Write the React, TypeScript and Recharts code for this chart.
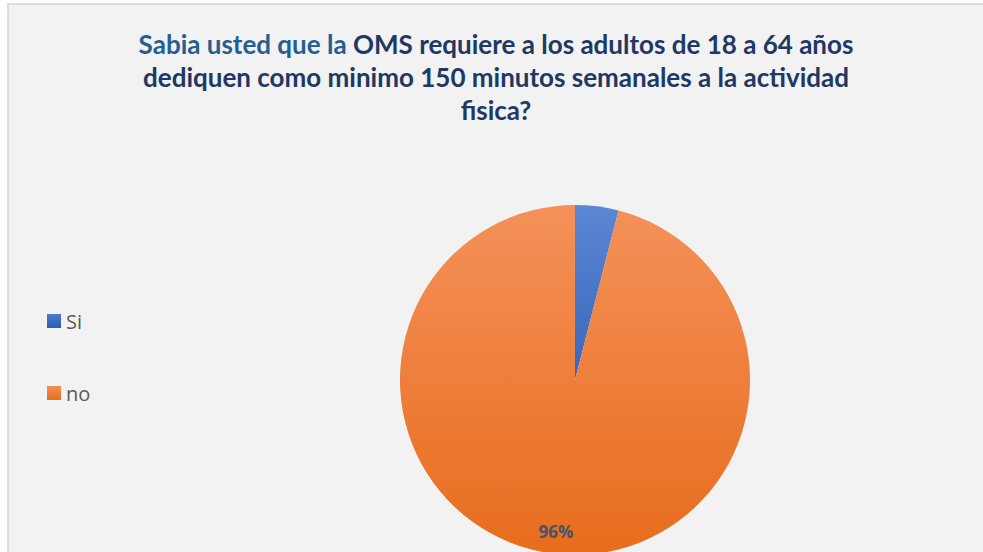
import { PieChart, Pie, Cell, Legend } from "recharts";

const categories = ["Si", "no"];
const values = [4, 96];
const labels = ["", "96%"];

const data = categories.map((name, i) => ({ name, value: values[i], label: labels[i] }));

const fills = ["url(#gradSi)", "url(#gradNo)"];
const legendFills = ["linear-gradient(#4a7bd0, #2c5bb5)", "linear-gradient(#f4915a, #e86c1c)"];

const RADIAN = Math.PI / 180;

const renderLabel = (props: any) => {
	const { cx, cy, midAngle, outerRadius, index } = props;
	if (!labels[index]) return null;
	const r = outerRadius * 0.87;
	const x = cx + r * Math.cos(-midAngle * RADIAN);
	const y = cy + r * Math.sin(-midAngle * RADIAN);
	return (
		<text
			x={x}
			y={y}
			textAnchor="middle"
			dominantBaseline="central"
			fill="#44546a"
			fontFamily="'Open Sans', sans-serif"
			fontWeight={700}
			fontSize={17}
		>
			{labels[index]}
		</text>
	);
};

const renderLegend = (props: any) => {
	const payload = props.payload || [];
	return (
		<div>
			{payload.map((entry: any, i: number) => (
				<div
					key={entry.value}
					style={{
						display: "flex",
						alignItems: "center",
						height: 20,
						marginBottom: i === 0 ? 52 : 0,
					}}
				>
					<span
						style={{
							display: "inline-block",
							width: 14,
							height: 14,
							background: legendFills[i],
							marginRight: 5,
						}}
					/>
					<span style={{ color: "#595959", fontSize: 20, fontFamily: "'Open Sans', sans-serif" }}>
						{entry.value}
					</span>
				</div>
			))}
		</div>
	);
};

export default function App() {
	return (
		<div style={{ position: "fixed", left: 0, top: 0, right: 0, bottom: 0, background: "#f2f2f2", overflow: "hidden" }}>
			{/* white margin + light frame on top and left */}
			<div style={{ position: "absolute", left: 0, top: 0, right: 0, height: 3, background: "#ffffff" }} />
			<div style={{ position: "absolute", left: 0, top: 0, bottom: 0, width: 7, background: "#ffffff" }} />
			<div style={{ position: "absolute", left: 7, top: 3, right: 0, height: 2, background: "#d9dee4" }} />
			<div style={{ position: "absolute", left: 7, top: 3, bottom: 0, width: 2, background: "#d9dee4" }} />
			<div
				style={{
					position: "absolute",
					left: 0,
					top: 28,
					width: 992,
					textAlign: "center",
					fontFamily: "Lato, sans-serif",
					fontWeight: 700,
					fontSize: 26,
					lineHeight: "33px",
					color: "#203864",
				}}
			>
				<span style={{ color: "#255e91" }}>Sabia usted que la</span> OMS requiere a los adultos de 18 a 64 años
				<br />
				dediquen como minimo 150 minutos semanales a la actividad
				<br />
				fisica?
			</div>
			<div style={{ position: "absolute", left: 0, top: 0 }}>
				<PieChart width={983} height={552} margin={{ top: 0, right: 0, bottom: 0, left: 0 }}>
					<defs>
						<linearGradient id="gradSi" x1="0" y1="0" x2="0" y2="1">
							<stop offset="0%" stopColor="#5b87d3" />
							<stop offset="100%" stopColor="#3a66bd" />
						</linearGradient>
						<linearGradient id="gradNo" x1="0" y1="0" x2="0" y2="1">
							<stop offset="0%" stopColor="#f4915a" />
							<stop offset="100%" stopColor="#e86c1c" />
						</linearGradient>
					</defs>
					<Pie
						data={data}
						dataKey="value"
						nameKey="name"
						cx={475}
						cy={380}
						outerRadius={175}
						startAngle={90}
						endAngle={-270}
						stroke="none"
						label={renderLabel}
						labelLine={false}
						isAnimationActive={false}
					>
						{data.map((d, i) => (
							<Cell key={d.name} fill={fills[i]} />
						))}
					</Pie>
					<Legend
						layout="vertical"
						align="left"
						verticalAlign="top"
						content={renderLegend}
						wrapperStyle={{ left: 47, top: 311, width: 100 }}
					/>
				</PieChart>
			</div>
		</div>
	);
}
